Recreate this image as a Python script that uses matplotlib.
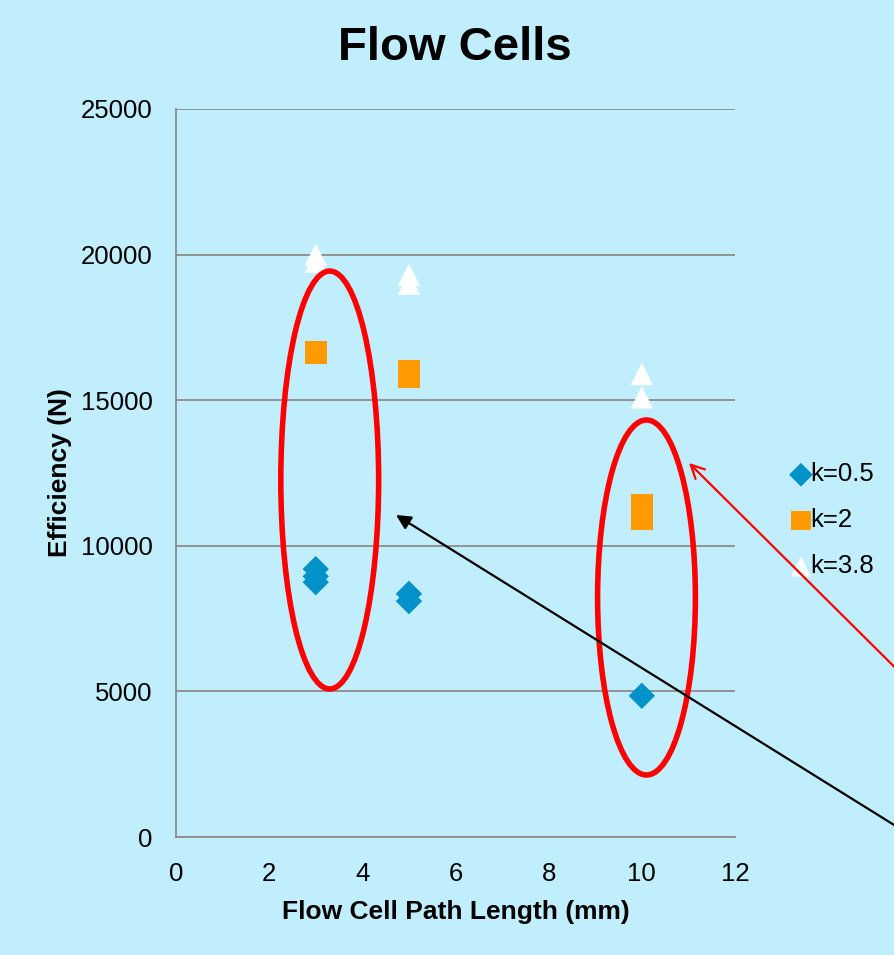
import matplotlib
matplotlib.use("Agg")
import matplotlib.pyplot as plt
from matplotlib.patches import Ellipse, FancyArrowPatch

plt.rcParams['font.family'] = ['Liberation Sans', 'DejaVu Sans']

# path length (mm) and efficiency (N) for each k
x_k05 = [3, 3, 3, 5, 5, 10]
y_k05 = [9200, 8950, 8750, 8350, 8100, 4850]
x_k2 = [3, 3, 5, 5, 10, 10, 10]
y_k2 = [16650, 16600, 16000, 15800, 11400, 11150, 10900]
x_k38 = [3, 3, 5, 5, 10, 10]
y_k38 = [20000, 19750, 19300, 19000, 15900, 15100]

bg = "#c1eefc"
W, H = 894, 955

fig = plt.figure(figsize=(W / 100, H / 100), dpi=100, facecolor=bg)
ax = fig.add_axes([176 / W, 1 - 837 / H, (735 - 176) / W, (837 - 109) / H], facecolor=bg)

ax.scatter(x_k05, y_k05, marker="D", s=180, color="#0092c8", edgecolors="none", label="k=0.5", zorder=3)
ax.scatter(x_k2, y_k2, marker="s", s=240, color="#ff9a00", edgecolors="none", label="k=2", zorder=3)
ax.scatter(x_k38, y_k38, marker="^", s=260, color="white", edgecolors="none", label="k=3.8", zorder=3)

ax.set_xlim(0, 12)
ax.set_ylim(0, 25000)
ax.set_xticks(range(0, 13, 2))
ax.set_yticks(range(0, 25001, 5000))
ax.tick_params(length=0, labelsize=18.5)
ax.tick_params(axis="y", pad=17)
ax.tick_params(axis="x", pad=18)
ax.grid(axis="y", color="#8c8c8c", linewidth=1.3)
ax.set_axisbelow(True)
for s in ["top", "right"]:
    ax.spines[s].set_visible(False)
for s in ["left", "bottom"]:
    ax.spines[s].set_color("#8c8c8c")
    ax.spines[s].set_linewidth(1.3)

ax.set_xlabel("Flow Cell Path Length (mm)", fontsize=19, fontweight="bold", labelpad=10)
ax.set_ylabel("Efficiency (N)", fontsize=19, fontweight="bold", labelpad=6)
fig.text(455 / W, 1 - 48 / H, "Flow Cells", fontsize=34, fontweight="bold", ha="center", va="center")

leg = ax.legend(loc="center left", bbox_to_anchor=(1.095, 0.435), frameon=False, fontsize=18.5,
                handletextpad=-0.15, labelspacing=0.85, markerscale=0.9, handlelength=1.0,
                borderpad=0, borderaxespad=0)

# red ellipses around groups
ax.add_patch(Ellipse((3.3, 12260), 2.1, 14350, fill=False, edgecolor="red", linewidth=4, zorder=4))
ax.add_patch(Ellipse((10.1, 8225), 2.1, 12190, fill=False, edgecolor="red", linewidth=4, zorder=4))

# arrows coming in from the right
fig.patches.append(FancyArrowPatch(
    (960, H - 732), (689, H - 463), transform=None, arrowstyle="->", mutation_scale=24,
    color="red", linewidth=1.6, shrinkA=0, shrinkB=0))
fig.patches.append(FancyArrowPatch(
    (960, H - 866), (396, H - 515), transform=None, arrowstyle="-|>", mutation_scale=22,
    color="black", linewidth=1.6, shrinkA=0, shrinkB=0))

fig.savefig("out.png", dpi=100, facecolor=bg)
